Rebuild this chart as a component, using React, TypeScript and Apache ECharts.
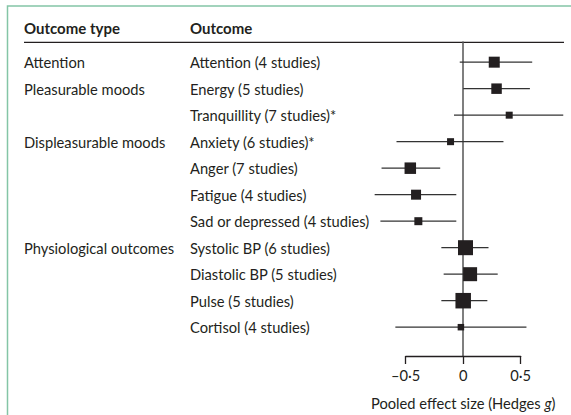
import React, { useEffect, useRef } from "react";
import * as echarts from "echarts";

const outcomeTypes = [
  "Attention",
  "Pleasurable moods",
  "",
  "Displeasurable moods",
  "",
  "",
  "",
  "Physiological outcomes",
  "",
  "",
  "",
];
const outcomes = [
  "Attention (4 studies)",
  "Energy (5 studies)",
  "Tranquillity (7 studies)*",
  "Anxiety (6 studies)*",
  "Anger (7 studies)",
  "Fatigue (4 studies)",
  "Sad or depressed (4 studies)",
  "Systolic BP (6 studies)",
  "Diastolic BP (5 studies)",
  "Pulse (5 studies)",
  "Cortisol (4 studies)",
];
const estimates = [0.27, 0.29, 0.4, -0.11, -0.46, -0.41, -0.39, 0.02, 0.06, 0.0, -0.02];
const lowerCI = [-0.03, 0.0, -0.08, -0.58, -0.71, -0.77, -0.72, -0.19, -0.17, -0.19, -0.59];
const upperCI = [0.6, 0.58, 0.87, 0.35, -0.2, -0.06, -0.06, 0.22, 0.3, 0.21, 0.55];
const weights = [11, 10.5, 7, 7, 11.5, 10, 8, 15, 14, 15.5, 6.5];
const tickValues = [-0.5, 0, 0.5];
const headers = ["Outcome type", "Outcome"];
const axisTitle = "Pooled effect size (Hedges {i|g})";

const INK = "#231f20";
const FONT = "Lato";
const FS = 14.7;

function fmt(v: number): string {
  if (v === 0) return "0";
  const s = Math.abs(v).toString().replace(".", "·");
  return (v < 0 ? "\u2013" : "") + s;
}

export default function App() {
  const ref = useRef<HTMLDivElement>(null);
  useEffect(() => {
    document.body.style.margin = "0";
    if (!ref.current) return;
    const chart = echarts.init(ref.current, undefined, { renderer: "svg" });
    const data = outcomes.map((o, i) => [
      i,
      estimates[i],
      lowerCI[i],
      upperCI[i],
      weights[i],
    ]);
    chart.setOption({
      animation: false,
      grid: { left: 405.7, right: 50.3, top: 42, bottom: 57, containLabel: false },
      xAxis: {
        type: "value",
        min: tickValues[0],
        max: tickValues[tickValues.length - 1],
        interval: 0.5,
        splitLine: { show: false },
        axisLine: { show: true, onZero: false, lineStyle: { color: INK, width: 1.3 } },
        axisTick: { show: true, length: 8, lineStyle: { color: INK, width: 1.3 } },
        axisLabel: {
          formatter: (v: number) => fmt(v),
          color: INK,
          fontSize: FS,
          fontFamily: FONT,
          margin: 11,
        },
        name: axisTitle,
        nameLocation: "middle",
        nameGap: 39,
        nameTextStyle: {
          color: INK,
          fontSize: FS,
          fontFamily: FONT,
          rich: { i: { fontStyle: "italic", color: INK, fontSize: FS, fontFamily: FONT } },
        },
      },
      yAxis: {
        type: "value",
        inverse: true,
        min: -0.761,
        max: 11.087,
        splitLine: { show: false },
        axisLine: { show: true, onZero: true, lineStyle: { color: "#555", width: 1.5 } },
        axisTick: { show: false },
        axisLabel: { show: false },
      },
      graphic: [
        {
          type: "rect",
          silent: true,
          shape: { x: 7.5, y: 6, width: 700, height: 600 },
          style: { fill: "none", stroke: "#84c5a6", lineWidth: 1.5 },
        },
        {
          type: "line",
          silent: true,
          shape: { x1: 24, y1: 42.3, x2: 564, y2: 42.3 },
          style: { stroke: INK, lineWidth: 1.3 },
        },
        {
          type: "text",
          x: 24,
          y: 28,
          style: {
            text: headers[0],
            fill: INK,
            fontSize: 15,
            fontWeight: "bold",
            fontFamily: FONT,
            verticalAlign: "middle",
          },
        },
        {
          type: "text",
          x: 190,
          y: 28,
          style: {
            text: headers[1],
            fill: INK,
            fontSize: 15,
            fontWeight: "bold",
            fontFamily: FONT,
            verticalAlign: "middle",
          },
        },
      ],
      series: [
        {
          type: "custom",
          clip: false,
          data,
          encode: { x: 1, y: 0 },
          renderItem: (params: any, api: any) => {
            const row = api.value(0);
            const est = api.value(1);
            const lo = api.value(2);
            const hi = api.value(3);
            const w = api.value(4);
            const pEst = api.coord([est, row]);
            const pLo = api.coord([lo, row]);
            const pHi = api.coord([hi, row]);
            const y = pEst[1];
            const i = params.dataIndex;
            const children: any[] = [
              {
                type: "line",
                shape: { x1: pLo[0], y1: y, x2: pHi[0], y2: y },
                style: { stroke: "#333", lineWidth: 1.3 },
              },
              {
                type: "rect",
                shape: { x: pEst[0] - w / 2, y: y - w / 2, width: w, height: w },
                style: { fill: INK },
              },
              {
                type: "text",
                x: 190,
                y,
                style: {
                  text: outcomes[i],
                  fill: INK,
                  fontSize: FS,
                  fontFamily: FONT,
                  verticalAlign: "middle",
                },
              },
            ];
            if (outcomeTypes[i]) {
              children.push({
                type: "text",
                x: 24,
                y,
                style: {
                  text: outcomeTypes[i],
                  fill: INK,
                  fontSize: FS,
                  fontFamily: FONT,
                  verticalAlign: "middle",
                },
              });
            }
            return { type: "group", children };
          },
        },
      ],
    });
    return () => chart.dispose();
  }, []);
  return <div ref={ref} style={{ width: 571, height: 415 }} />;
}
